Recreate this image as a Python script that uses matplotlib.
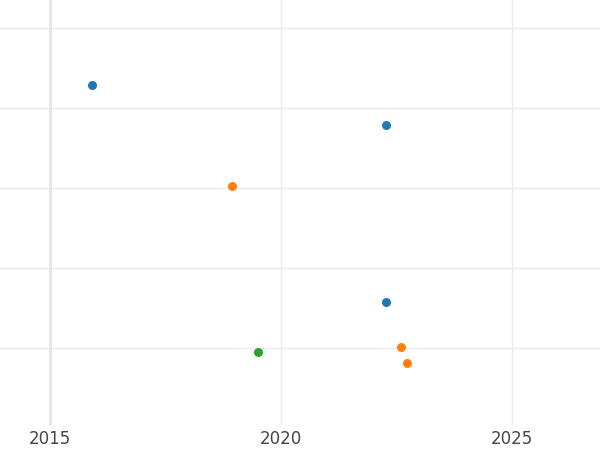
import matplotlib.pyplot as plt

blue_x = [2015.91, 2022.27, 2022.27]
blue_y = [4.29, 3.79, 1.58]
orange_x = [2018.94, 2022.6, 2022.73]
orange_y = [3.03, 1.01, 0.81]
green_x = [2019.5]
green_y = [0.95]

fig = plt.figure(figsize=(6, 4.5), dpi=100)
ax = fig.add_axes([0, 25 / 450, 1, 425 / 450])

ax.scatter(blue_x, blue_y, color="#1f77b4", s=30, zorder=3)
ax.scatter(orange_x, orange_y, color="#ff7f0e", s=30, zorder=3)
ax.scatter(green_x, green_y, color="#2ca02c", s=30, zorder=3)

ax.set_xlim(2013.92, 2026.9)
ax.set_ylim(0.04, 5.35)
ax.set_xticks([2015, 2020, 2025])
ax.set_yticks([1, 2, 3, 4, 5])
ax.set_yticklabels([])
ax.grid(True, color="#ebebeb", linewidth=1)
ax.axvline(2015, color="#e5e5e5", linewidth=2, zorder=1)
for s in ax.spines.values():
    s.set_visible(False)
ax.tick_params(length=0, labelsize=12, labelcolor="#444444")
ax.set_axisbelow(True)

fig.savefig("out.png")
